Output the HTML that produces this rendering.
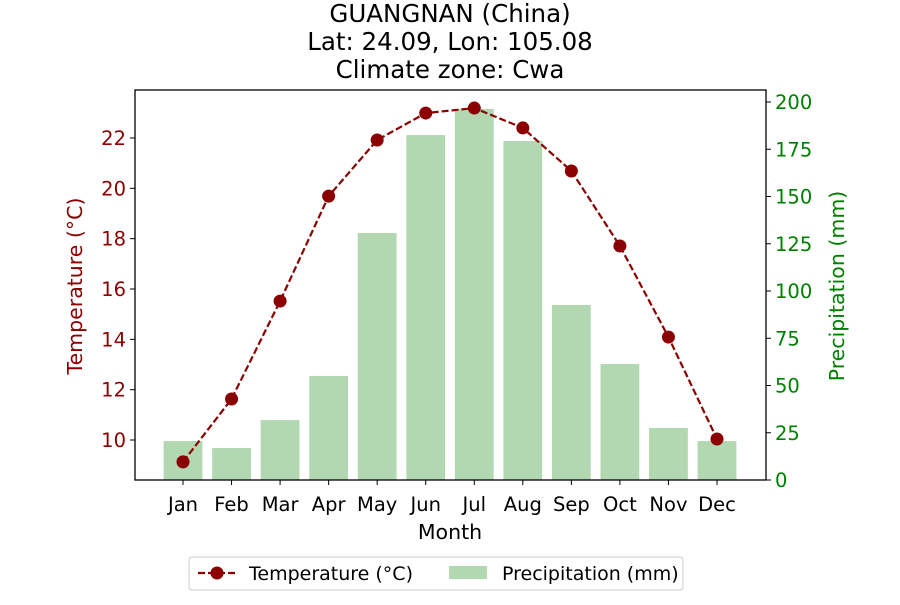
<!DOCTYPE html>
<html><head><meta charset="utf-8"><style>
body{margin:0;background:#fff}
</style></head><body>
<svg id="chart" width="900" height="600" xmlns="http://www.w3.org/2000/svg" style='font-family:"DejaVu Sans","Liberation Sans",sans-serif'></svg>
<script>
const months=["Jan","Feb","Mar","Apr","May","Jun","Jul","Aug","Sep","Oct","Nov","Dec"];
const temps=[9.13,11.63,15.52,19.69,21.92,22.99,23.19,22.40,20.69,17.71,14.09,10.04];
const precip=[20.6,16.9,31.7,55,130.7,182.5,196.3,179.4,92.6,61.4,27.5,20.6];
const tTicks=[10,12,14,16,18,20,22];
const pTicks=[0,25,50,75,100,125,150,175,200];

const svg=document.getElementById('chart');
const NS='http://www.w3.org/2000/svg';
const L=135,R=766,T=90,B=480;
const xPos=i=>183+i*(717-183)/11;
const yT=t=>440-(t-10)*(302/12);
const yP=p=>480-p*(378/200);
function mk(tag,attrs,parent){const e=document.createElementNS(NS,tag);for(const k in attrs)e.setAttribute(k,attrs[k]);(parent||svg).appendChild(e);return e;}
function txt(s,attrs,parent){const e=mk('text',attrs,parent);e.textContent=s;return e;}

const title=mk('g',{});


txt('GUANGNAN (China)',{x:450,y:22,'text-anchor':'middle','font-size':24.5,fill:'#000'},title);
txt('Lat: 24.09, Lon: 105.08',{x:450,y:50,'text-anchor':'middle','font-size':24.5,fill:'#000'},title);
txt('Climate zone: Cwa',{x:450,y:78,'text-anchor':'middle','font-size':24.5,fill:'#000'},title);

const bw=38.8;
precip.forEach((p,i)=>{
  const r=mk('rect',{x:xPos(i)-bw/2,y:yP(p),width:bw,height:480-yP(p),fill:'#b1d8b1'});
  
  
});

const line=mk('polyline',{points:temps.map((t,i)=>xPos(i)+','+yT(t)).join(' '),fill:'none',stroke:'#8b0000','stroke-width':2.2,'stroke-dasharray':'7,3'});


temps.forEach((t,i)=>{
  const c=mk('circle',{cx:xPos(i),cy:yT(t),r:6.5,fill:'#8b0000'});
  
  
});

mk('rect',{x:L,y:T,width:R-L,height:B-T,fill:'none',stroke:'#000','stroke-width':1.3});

months.forEach((m,i)=>{
  mk('line',{x1:xPos(i),x2:xPos(i),y1:B,y2:B+5,stroke:'#000'});
  const t=txt(m,{x:xPos(i),y:B+31,'text-anchor':'middle','font-size':19.5,fill:'#000'});
  
  
});
const xt=txt('Month',{x:450,y:539,'text-anchor':'middle','font-size':20.5,fill:'#000'});



tTicks.forEach(v=>{
  mk('line',{x1:L-5,x2:L,y1:yT(v),y2:yT(v),stroke:'#000'});
  const t=txt(String(v),{x:L-9,y:yT(v)+7,'text-anchor':'end','font-size':19.5,fill:'#8b0000'});
  
  
});
const yl=txt('Temperature (°C)',{x:0,y:0,'text-anchor':'middle','font-size':20.5,fill:'#8b0000',transform:'translate(82,286) rotate(-90)'});



pTicks.forEach(v=>{
  mk('line',{x1:R,x2:R+5,y1:yP(v),y2:yP(v),stroke:'#000'});
  const t=txt(String(v),{x:R+9,y:yP(v)+7,'text-anchor':'start','font-size':19.5,fill:'#008000'});
  
  
});
const yr=txt('Precipitation (mm)',{x:0,y:0,'text-anchor':'middle','font-size':20.5,fill:'#008000',transform:'translate(844,286) rotate(-90)'});



const lg=mk('g',{});


mk('rect',{x:189,y:557,width:494,height:33,rx:3,fill:'#fff',stroke:'#ccc'},lg);
mk('line',{x1:198,x2:236,y1:573,y2:573,stroke:'#8b0000','stroke-width':2.2,'stroke-dasharray':'7,3'},lg);
mk('circle',{cx:217,cy:573,r:6.5,fill:'#8b0000'},lg);
txt('Temperature (°C)',{x:249,y:580,'font-size':19,fill:'#000'},lg);
mk('rect',{x:449,y:566,width:38,height:13,fill:'#b1d8b1'},lg);
txt('Precipitation (mm)',{x:502,y:580,'font-size':19,fill:'#000'},lg);
</script>
</body></html>
